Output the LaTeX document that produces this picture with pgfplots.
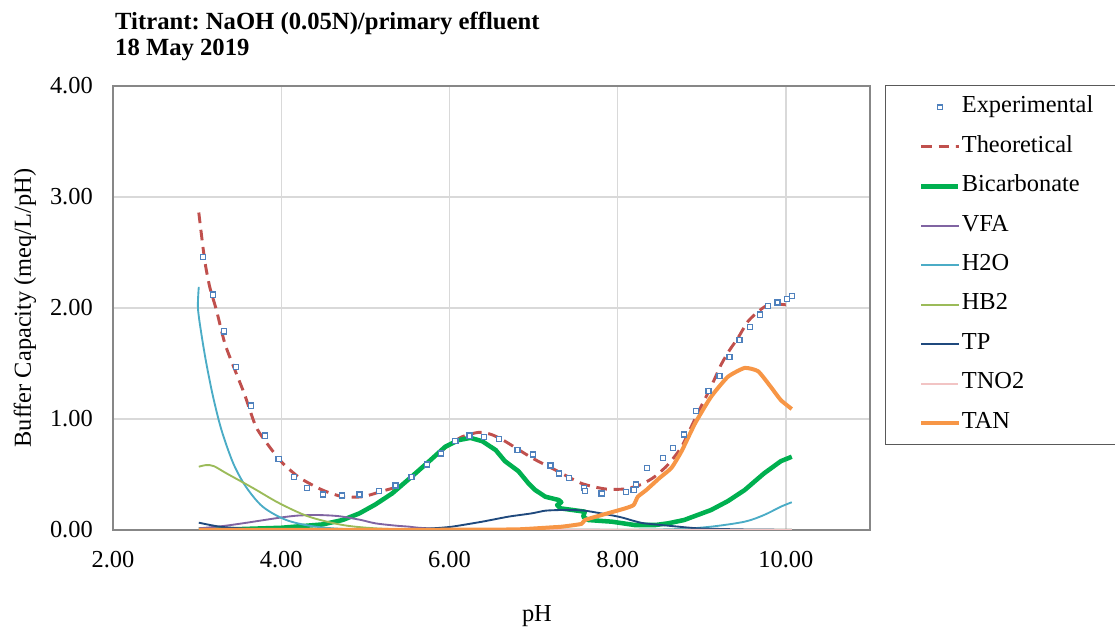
\documentclass[border=0pt]{standalone}
\usepackage{pgfplots}
\pgfplotsset{compat=1.18}
\usepackage{fontspec}
\setmainfont{Liberation Serif}

\definecolor{expblue}{HTML}{4F81BD}
\definecolor{theored}{HTML}{C0504D}
\definecolor{bicgreen}{HTML}{00B050}
\definecolor{vfapurple}{HTML}{8064A2}
\definecolor{waterblue}{HTML}{4BACC6}
\definecolor{hbolive}{HTML}{9BBB59}
\definecolor{tpnavy}{HTML}{1F497D}
\definecolor{tnopink}{HTML}{F2C4C4}
\definecolor{tanorange}{HTML}{F79646}

\newcommand{\bodyfont}{\fontsize{18.3}{21}\selectfont}
\frenchspacing

\begin{document}
\begin{tikzpicture}
\useasboundingbox (0,0) rectangle (836.25pt,471pt);
\begin{axis}[
  at={(84.75pt,73.5pt)}, anchor=south west,
  scale only axis, width=567.75pt, height=333pt,
  xmin=2, xmax=11, ymin=0, ymax=4,
  xtick={2,4,6,8,10}, ytick={0,1,2,3,4},
  scaled ticks=false,
  /pgf/number format/.cd, fixed, fixed zerofill, precision=2, assume math mode=true,
  /pgfplots/.cd,
  major tick length=0pt,
  tick label style={font=\bodyfont, inner sep=0pt},
  xticklabel style={anchor=north, yshift=-15.5pt},
  yticklabel style={anchor=east, xshift=-15pt},
  axis line style={draw=black!47, line width=1pt},
  grid=major,
  major grid style={draw=black!15, line width=1pt},
  xlabel={pH},
  xlabel style={at={(axis description cs:0.560,-0.195)}, anchor=center, font=\bodyfont, inner sep=0pt},
  ylabel={Buffer Capacity (meq/L/pH)},
  ylabel style={at={(axis description cs:-0.1162,0.5)}, anchor=center, font=\bodyfont, inner sep=0pt},
  title={Titrant: NaOH (0.05N)/primary effluent\\18 May 2019},
  title style={at={(axis description cs:0.0026,1.150)}, anchor=north west, align=left,
    font=\bfseries\fontsize{18.5}{19.5}\selectfont, inner sep=0pt},
  legend cell align=left,
  legend image code/.code={\draw[mark repeat=2,mark phase=2,#1] plot coordinates {(0pt,0pt)(13.9pt,0pt)(27.75pt,0pt)};},
  legend style={at={(axis description cs:1.0198,1.0023)}, anchor=north west,
    draw=black!65, line width=1pt, fill=white, font=\bodyfont,
    inner xsep=25pt, inner ysep=7.75pt, row sep=12.6pt, column sep=1pt,
    nodes={inner sep=0pt, text height=12.5pt, text depth=4.5pt}},
]

% legend entry for the measured points, which are drawn last so they sit on top
\addlegendimage{only marks, mark=square*, mark size=1.8pt, mark options={draw=expblue, fill=white, line width=0.9pt}}
\addlegendentry{Experimental}

\addplot[theored, line width=2.2pt, dash pattern=on 8pt off 5pt, smooth, tension=0.4] coordinates {
(3.02,2.86)(3.09,2.43)(3.15,2.19)(3.23,1.98)(3.33,1.68)(3.45,1.44)(3.56,1.23)
(3.70,0.93)(3.86,0.75)(4.02,0.60)(4.22,0.47)(4.49,0.36)(4.73,0.30)(4.97,0.30)
(5.20,0.35)(5.44,0.41)(5.70,0.58)(5.95,0.74)(6.15,0.84)(6.35,0.88)(6.50,0.86)
(6.66,0.80)(6.98,0.65)(7.26,0.54)(7.57,0.42)(7.85,0.37)(8.09,0.37)(8.28,0.41)
(8.44,0.48)(8.60,0.59)(8.76,0.75)(8.90,0.97)(9.01,1.14)(9.11,1.29)(9.23,1.49)
(9.33,1.62)(9.43,1.73)(9.55,1.88)(9.69,1.98)(9.82,2.04)(9.98,2.03)(10.07,2.04)
};
\addlegendentry{Theoretical}

\addplot[bicgreen, line width=3.4pt, line join=round] coordinates {
(3.02,0.003)(3.50,0.008)(4.00,0.02)(4.49,0.05)(4.73,0.09)(4.93,0.15)(5.12,0.23)
(5.32,0.33)(5.55,0.48)(5.76,0.62)(5.95,0.75)(6.11,0.81)(6.25,0.83)(6.39,0.80)
(6.55,0.72)(6.66,0.62)(6.82,0.53)(6.94,0.42)(7.02,0.36)(7.14,0.30)(7.30,0.27)
(7.33,0.25)(7.28,0.225)(7.32,0.195)(7.61,0.165)(7.59,0.12)(7.65,0.09)(7.93,0.075)
(8.20,0.045)(8.45,0.045)(8.60,0.06)(8.79,0.09)(8.95,0.135)(9.11,0.18)(9.31,0.26)
(9.51,0.36)(9.74,0.51)(9.94,0.62)(10.07,0.66)
};
\addlegendentry{Bicarbonate}

\addplot[vfapurple, line width=1.4pt, smooth, tension=0.5] coordinates {
(3.02,0.015)(3.30,0.035)(3.54,0.06)(3.80,0.09)(4.02,0.115)(4.20,0.13)(4.41,0.135)
(4.60,0.13)(4.73,0.12)(4.95,0.09)(5.12,0.06)(5.35,0.04)(5.52,0.03)(5.64,0.02)
(5.90,0.01)(6.30,0.004)(7.00,0.001)(10.07,0.0)
};
\addlegendentry{VFA}

\addplot[waterblue, line width=1.4pt, smooth, tension=0.5] coordinates {
(3.02,2.19)(3.01,2.00)(3.05,1.77)(3.11,1.50)(3.19,1.20)(3.29,0.90)(3.43,0.60)
(3.58,0.39)(3.78,0.21)(4.06,0.09)(4.41,0.03)(4.90,0.005)(6.00,0.001)(8.00,0.002)
(8.70,0.008)(9.11,0.03)(9.51,0.075)(9.74,0.135)(9.94,0.21)(10.07,0.25)
};
\addlegendentry{H2O}

\addplot[hbolive, line width=1.4pt, smooth, tension=0.5] coordinates {
(3.02,0.57)(3.11,0.585)(3.20,0.575)(3.35,0.51)(3.66,0.38)(3.98,0.24)(4.33,0.12)
(4.73,0.045)(5.12,0.015)(5.60,0.004)(6.50,0.001)(10.07,0.001)
};
\addlegendentry{HB2}

\addplot[tpnavy, line width=1.4pt, smooth, tension=0.4] coordinates {
(3.02,0.066)(3.27,0.03)(3.63,0.01)(4.20,0.003)(5.00,0.005)(5.50,0.008)(5.80,0.015)
(6.03,0.03)(6.39,0.075)(6.70,0.12)(6.98,0.15)(7.14,0.174)(7.34,0.18)(7.61,0.174)
(8.01,0.12)(8.20,0.08)(8.32,0.06)(8.64,0.036)(8.96,0.015)(9.50,0.005)(10.07,0.002)
};
\addlegendentry{TP}

\addplot[tnopink, line width=1.4pt] coordinates {
(3.02,0.004)(5.00,0.004)(7.00,0.003)(8.00,0.002)(10.07,0.001)
};
\addlegendentry{TNO2}

\addplot[tanorange, line width=3pt, line join=round, smooth, tension=0.3] coordinates {
(3.02,0.001)(5.00,0.001)(6.30,0.003)(6.82,0.006)(7.22,0.024)(7.34,0.03)(7.57,0.055)
(7.61,0.09)(7.81,0.135)(8.09,0.195)(8.19,0.225)(8.24,0.30)(8.34,0.36)(8.50,0.47)
(8.64,0.56)(8.76,0.71)(8.92,0.96)(9.11,1.20)(9.31,1.38)(9.51,1.46)(9.67,1.43)
(9.82,1.29)(9.94,1.17)(10.07,1.09)
};
\addlegendentry{TAN}

% measured buffer capacity
\addplot[forget plot, only marks, mark=square*, mark size=1.9pt,
  mark options={draw=expblue, fill=white, line width=1pt}] coordinates {
(3.07,2.46)(3.19,2.12)(3.32,1.79)(3.46,1.47)(3.64,1.12)(3.81,0.85)(3.97,0.64)
(4.15,0.48)(4.31,0.38)(4.50,0.32)(4.72,0.31)(4.93,0.32)(5.16,0.35)(5.36,0.40)
(5.55,0.48)(5.73,0.59)(5.90,0.69)(6.07,0.80)(6.24,0.85)(6.41,0.84)(6.59,0.82)
(6.81,0.72)(6.99,0.68)(7.20,0.58)(7.30,0.51)(7.42,0.47)(7.60,0.38)(7.61,0.35)
(7.81,0.33)(8.10,0.34)(8.19,0.36)(8.22,0.41)(8.35,0.56)(8.54,0.65)(8.66,0.74)
(8.79,0.86)(8.93,1.07)(9.08,1.25)(9.21,1.39)(9.33,1.56)(9.45,1.71)(9.57,1.83)
(9.69,1.94)(9.79,2.02)(9.90,2.05)(10.01,2.08)(10.07,2.11)
};

\end{axis}
\end{tikzpicture}
\end{document}
